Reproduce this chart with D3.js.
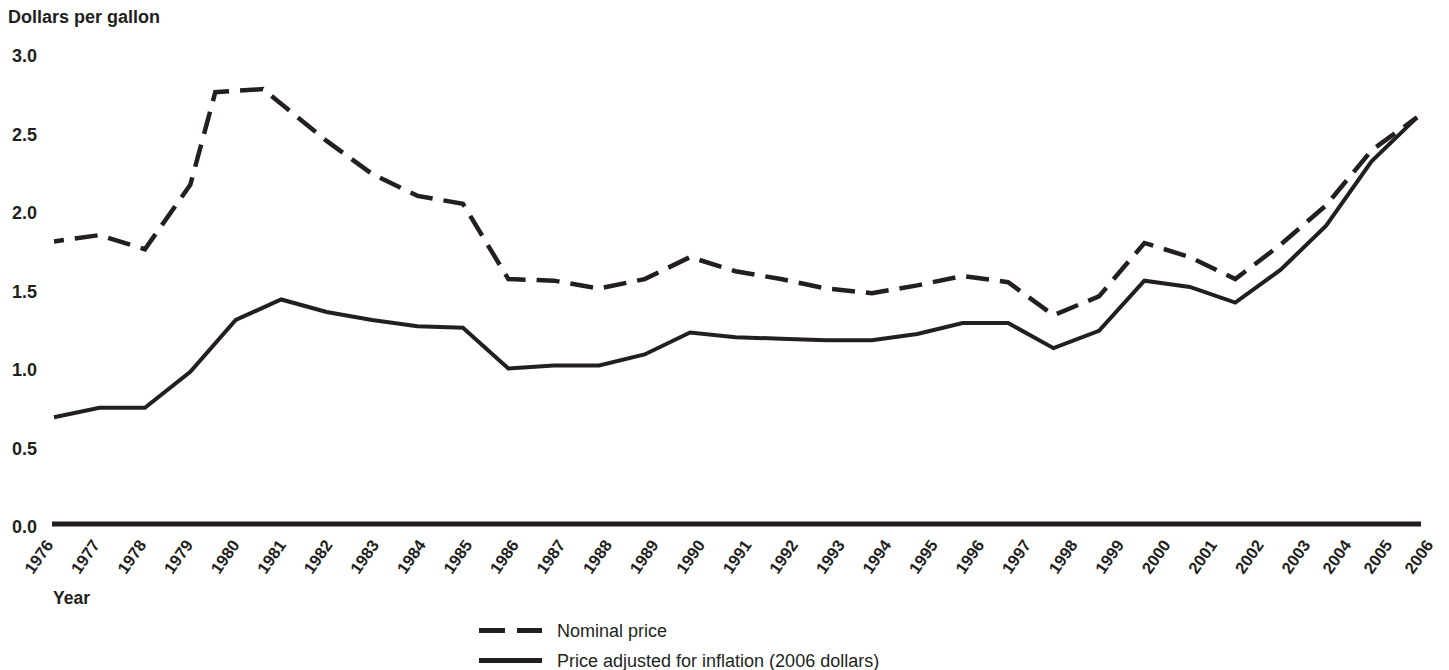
<!DOCTYPE html>
<html>
<head>
<meta charset="utf-8">
<script src="https://cdn.jsdelivr.net/npm/d3@7"></script>
<style>
  html, body { margin: 0; padding: 0; background: #fff; }
  svg { display: block; }
  text { font-family: "Liberation Sans", Arial, Helvetica, sans-serif; fill: #231f20; }
</style>
</head>
<body>
<svg id="chart" width="1449" height="670"></svg>
<script>
// ---- data ----
const years = d3.range(1976, 2007);
const tickLabels = years.map(String);
const yTickValues = [0, 0.5, 1.0, 1.5, 2.0, 2.5, 3.0];

// Nominal price (dashed); two vertices in 1979-81 fall between years
const nominalYears = [1976, 1977, 1978, 1979, 1979.55, 1980.6, 1982, 1983, 1984, 1985,
  1986, 1987, 1988, 1989, 1990, 1991, 1992, 1993, 1994, 1995,
  1996, 1997, 1998, 1999, 2000, 2001, 2002, 2003, 2004, 2005, 2006];
const nominalPrice = [1.80, 1.84, 1.75, 2.16, 2.75, 2.77, 2.44, 2.23, 2.09, 2.04,
  1.56, 1.55, 1.50, 1.56, 1.70, 1.61, 1.56, 1.50, 1.47, 1.52,
  1.58, 1.54, 1.33, 1.45, 1.79, 1.70, 1.56, 1.78, 2.03, 2.38, 2.59];

// Price adjusted for inflation (2006 dollars), solid
const realPrice = [0.68, 0.74, 0.74, 0.97, 1.30, 1.43, 1.35, 1.30, 1.26, 1.25,
  0.99, 1.01, 1.01, 1.08, 1.22, 1.19, 1.18, 1.17, 1.17, 1.21,
  1.28, 1.28, 1.12, 1.23, 1.55, 1.51, 1.41, 1.62, 1.90, 2.31, 2.59];

const legendItems = ["Nominal price", "Price adjusted for inflation (2006 dollars)"];

// ---- layout ----
const ink = "#231f20";
const svg = d3.select("#chart");

const x = d3.scaleLinear().domain([1976, 2006]).range([54, 1417]);
const xLabel = d3.scaleLinear().domain([1976, 2003, 2006]).range([54, 1311, 1434]);
const y = d3.scaleLinear().domain([0, 3]).range([524, 53]);

// title
svg.append("text").attr("x", 8).attr("y", 23)
  .attr("font-size", 18).attr("font-weight", "bold")
  .text("Dollars per gallon");

// y tick labels
svg.append("g").selectAll("text").data(yTickValues).join("text")
  .attr("x", 37).attr("y", d => y(d) + 9)
  .attr("text-anchor", "end")
  .attr("font-size", 18).attr("font-weight", "bold")
  .text(d => d.toFixed(1));

// baseline axis
svg.append("line")
  .attr("x1", 52).attr("x2", 1421)
  .attr("y1", y(0)).attr("y2", y(0))
  .attr("stroke", ink).attr("stroke-width", 5);

// x tick labels (rotated)
svg.append("g").selectAll("text").data(years).join("text")
  .attr("transform", d => `translate(${xLabel(d)},545) rotate(-55)`)
  .attr("text-anchor", "end")
  .attr("font-size", 16.5).attr("font-weight", "bold")
  .text((d, i) => tickLabels[i]);

// x axis title
svg.append("text").attr("x", 53).attr("y", 604)
  .attr("font-size", 17.5).attr("font-weight", "bold")
  .text("Year");

// lines
const lineNominal = d3.line()
  .x((d, i) => x(nominalYears[i]))
  .y(d => y(d));
const lineReal = d3.line()
  .x((d, i) => x(years[i]))
  .y(d => y(d));

svg.append("path").datum(realPrice)
  .attr("d", lineReal)
  .attr("fill", "none").attr("stroke", ink).attr("stroke-width", 4)
  .attr("stroke-linejoin", "miter");

svg.append("path").datum(nominalPrice)
  .attr("d", lineNominal)
  .attr("fill", "none").attr("stroke", ink).attr("stroke-width", 4.5)
  .attr("stroke-dasharray", "23,11").attr("stroke-dashoffset", 13)
  .attr("stroke-linejoin", "miter");

// legend
const legend = svg.append("g");
const rows = [{ y: 630.5, dash: "26,12" }, { y: 660.5, dash: null }];
rows.forEach((r, i) => {
  const l = legend.append("line")
    .attr("x1", 479).attr("x2", 542)
    .attr("y1", r.y).attr("y2", r.y)
    .attr("stroke", ink).attr("stroke-width", 5);
  if (r.dash) l.attr("stroke-dasharray", r.dash);
  legend.append("text")
    .attr("x", 557).attr("y", r.y + 6.5)
    .attr("font-size", 18)
    .text(legendItems[i]);
});
</script>
</body>
</html>
